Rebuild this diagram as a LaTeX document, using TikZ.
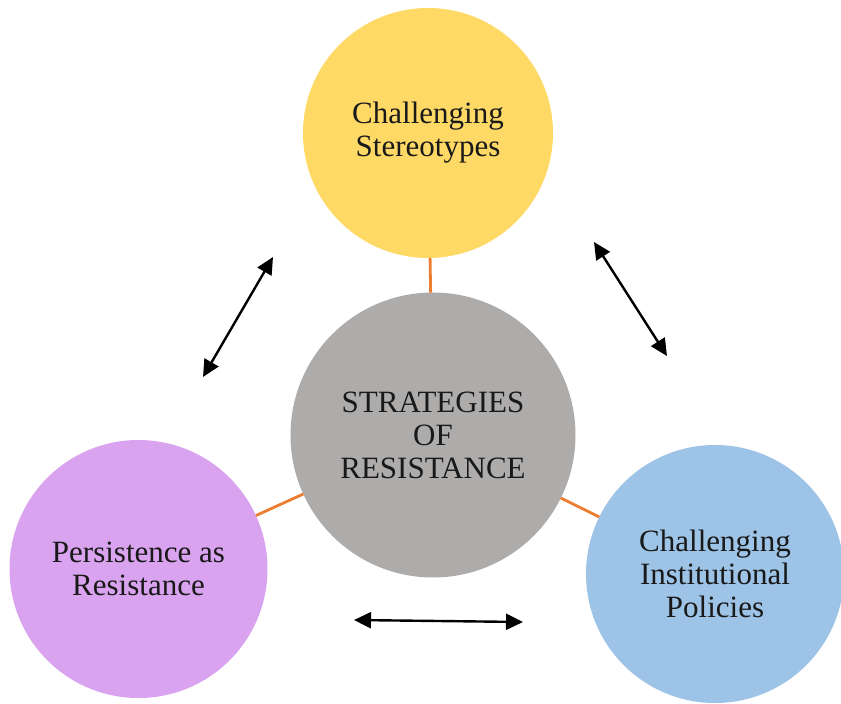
\documentclass[tikz,border=0pt]{standalone}
\usepackage{fontspec}
\setmainfont{Liberation Serif}
\usetikzlibrary{arrows.meta}
\definecolor{cyellow}{HTML}{FFD966}
\definecolor{cgray}{HTML}{AEABAB}
\definecolor{cpurple}{HTML}{D9A3EF}
\definecolor{cblue}{HTML}{9DC3E6}
\definecolor{corange}{HTML}{ED7D31}
\tikzset{
  bubble/.style={circle, draw=none, inner sep=0pt, outer sep=0pt, align=center,
    font=\fontsize{31}{33}\selectfont, text=black!90},
  link/.style={draw=corange, line width=2.8pt},
  twoway/.style={line width=2.4pt, {Triangle[length=17pt,width=16pt]}-{Triangle[length=17pt,width=16pt]}}
}
\begin{document}
\begin{tikzpicture}[x=1pt,y=-1pt]
\useasboundingbox (0,0) rectangle (841,704);
\node[bubble, fill=cyellow, minimum size=250pt] (top) at (428,133) {Challenging\\Stereotypes};
\node[bubble, fill=cgray, minimum size=285pt] (mid) at (433,435) {STRATEGIES\\OF\\RESISTANCE};
\node[bubble, fill=cpurple, minimum size=258pt] (left) at (138.5,569) {Persistence as\\Resistance};
\node[bubble, fill=cblue, minimum size=258pt] (right) at (715,574) {Challenging\\Institutional\\Policies};
\draw[link] (top) -- (mid);
\draw[link] (left) -- (mid);
\draw[link] (right) -- (mid);
\coordinate (a1) at (273,257);
\coordinate (a2) at (203,377);
\coordinate (b1) at (594,242);
\coordinate (b2) at (667,356);
\coordinate (c1) at (354,620);
\coordinate (c2) at (523,622);
\draw[twoway] (a2) -- (a1);
\draw[twoway] (b1) -- (b2);
\draw[twoway] (c1) -- (c2);
\end{tikzpicture}
\end{document}
